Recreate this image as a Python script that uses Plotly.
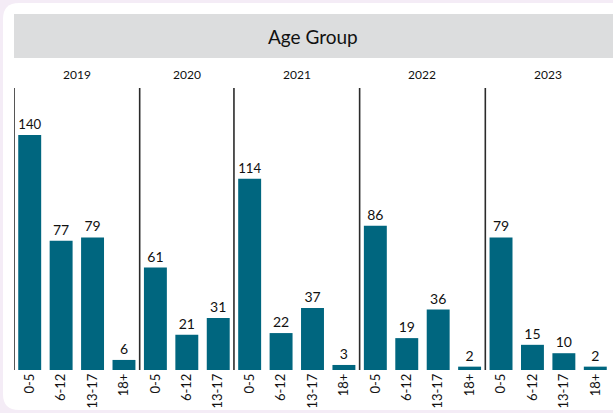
import plotly.graph_objects as go

years = ["2019", "2020", "2021", "2022", "2023"]
age_groups = [
    ["0-5", "6-12", "13-17", "18+"],
    ["0-5", "6-12", "13-17"],
    ["0-5", "6-12", "13-17", "18+"],
    ["0-5", "6-12", "13-17", "18+"],
    ["0-5", "6-12", "13-17", "18+"],
]
counts = [
    [140, 77, 79, 6],
    [61, 21, 31],
    [114, 22, 37, 3],
    [86, 19, 36, 2],
    [79, 15, 10, 2],
]

BAR = "#00667f"
FONT = "Lato, 'Open Sans', sans-serif"
BG = "#f4ecf6"

xs, ys, labels = [], [], []
group_bounds = []
i = 0
for ag, vals in zip(age_groups, counts):
    start = i
    for a, v in zip(ag, vals):
        xs.append(i)
        ys.append(v)
        labels.append(a)
        i += 1
    group_bounds.append((start - 0.5, i - 0.5))

fig = go.Figure(go.Bar(
    x=xs, y=ys, marker_color=BAR, marker_line_width=0,
    text=[str(v) for v in ys], textposition="outside",
    textfont=dict(size=14, color="#111111", family=FONT),
    cliponaxis=False, hoverinfo="skip",
))

W, H = 613, 413
L, R, T, B = 14, 2, 88, 43
pw, ph = W - L - R, H - T - B

def px_x(p):
    return (p - L) / pw

def px_y(q):
    return (H - B - q) / ph

shapes = []
# white rounded panel over lavender background
xl, xr = px_x(3), px_x(640)
yt, yb = px_y(3), px_y(410)
rx, ry = 16 / pw, 16 / ph
path = (f"M {xl+rx},{yt} L {xr},{yt} L {xr},{yb} L {xl+rx},{yb} "
        f"Q {xl},{yb} {xl},{yb+ry} L {xl},{yt-ry} Q {xl},{yt} {xl+rx},{yt} Z")
shapes.append(dict(type="path", path=path, xref="paper", yref="paper",
                   fillcolor="white", line_width=0, layer="below"))
# header band
shapes.append(dict(type="rect", xref="paper", yref="paper",
                   x0=0, x1=px_x(613), y0=px_y(58), y1=px_y(14),
                   fillcolor="#dcddde", line_width=0, layer="below"))
# group separators
for (a, b) in group_bounds:
    shapes.append(dict(type="line", xref="x", yref="paper", x0=a, x1=a,
                       y0=0, y1=1, line=dict(color="#2b2b2b", width=1.6)))

annotations = [dict(text="Age Group", xref="paper", yref="paper",
                    x=px_x(313), y=px_y(37), showarrow=False,
                    xanchor="center", yanchor="middle",
                    font=dict(size=19, color="#111111", family=FONT))]
for yr, (a, b) in zip(years, group_bounds):
    annotations.append(dict(text=yr, xref="x", yref="paper", x=(a + b) / 2,
                            y=px_y(74), showarrow=False,
                            xanchor="center", yanchor="middle",
                            font=dict(size=12, color="#111111", family=FONT)))

fig.update_layout(
    width=W, height=H,
    margin=dict(l=L, r=R, t=T, b=B, pad=0),
    paper_bgcolor=BG, plot_bgcolor="rgba(0,0,0,0)",
    bargap=0.27, showlegend=False,
    shapes=shapes, annotations=annotations,
    xaxis=dict(tickmode="array", tickvals=xs, ticktext=labels,
               range=[-0.5, len(xs) - 0.5], tickangle=-90,
               showgrid=False, zeroline=False, showline=False, ticks="",
               tickfont=dict(size=13, color="#111111", family=FONT)),
    yaxis=dict(range=[0, 168], visible=False, showgrid=False, zeroline=False),
)

fig.write_html(
    "out.html",
    config={"displayModeBar": False, "staticPlot": True},
    post_script=(
        "document.body.style.margin='0';document.body.style.padding='0';"
        "document.body.style.overflow='hidden';"
        f"document.body.style.background='{BG}';"
    ),
)
